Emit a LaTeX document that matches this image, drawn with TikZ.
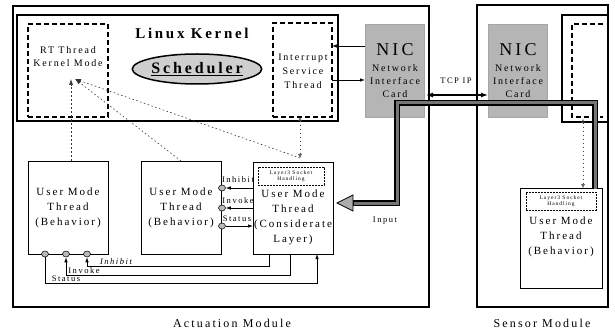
\documentclass[tikz,border=0pt]{standalone}
\usepackage{fontspec}
\setmainfont{Liberation Serif}[LetterSpace=18]
\usetikzlibrary{arrows.meta,shapes.geometric}
\begin{document}
\begin{tikzpicture}[x=1pt,y=-1pt,
  thickbox/.style={draw, line width=1.6pt, inner sep=0, outer sep=0, anchor=north west},
  thinbox/.style={draw, line width=0.9pt, inner sep=0, outer sep=0, anchor=north west},
  dashbox/.style={draw, line width=1.4pt, dash pattern=on 5pt off 3pt, inner sep=0, outer sep=0, anchor=north west},
  smalldash/.style={draw, line width=0.6pt, dash pattern=on 2pt off 1pt, inner sep=0, outer sep=0, anchor=north west},
  nicbox/.style={fill=gray!58, draw=gray!70, inner sep=0, outer sep=0, anchor=north west},
  txt/.style={inner sep=0, align=center},
  port/.style={ellipse, draw, fill=gray!55, minimum width=7pt, minimum height=6pt, inner sep=0, line width=0.5pt},
  dotarrow/.style={draw=gray!40!black, line width=0.6pt, dash pattern=on 1.5pt off 2.5pt, -{Latex[length=6pt,width=4pt]}},
  diadot/.style={draw=gray!50!black, line width=0.6pt, dash pattern=on 1pt off 3pt, {Latex[open,length=4pt,width=4pt]}-{Latex[open,length=4pt,width=4pt]}},
  conn/.style={line width=0.7pt, -{Latex[length=5pt,width=3.5pt]}},
  lbl/.style={inner sep=0, font=\fontsize{8.5}{10}\selectfont}
]
\useasboundingbox (0,0) rectangle (615,331);

% modules
\node[thickbox, minimum width=416pt, minimum height=301pt] (act) at (13,6) {};
\node[thickbox, minimum width=131pt, minimum height=302pt] (sens) at (477,5) {};
% kernels
\node[thickbox, minimum width=321pt, minimum height=106pt] (kern) at (17,15) {};
\node[thickbox, minimum width=46pt, minimum height=107pt] (kernR) at (562,15) {};
\draw[line width=1.4pt, dash pattern=on 5pt off 3pt] (603,24) -| (572,117) -- (603,117);
\coordinate (dRb) at (583,119);

% kernel contents
\node[dashbox, minimum width=80pt, minimum height=93pt] (rt) at (28,24) {};
\node[txt, font=\fontsize{10}{13}\selectfont] (rttxt) at (68,56.5) {RT Thread\\Kernel Mode};
\coordinate (rtTip) at (75,79);
\node[txt, font=\bfseries\fontsize{15}{17}\selectfont] (lk) at (192,33) {Linux Kernel};
\node[ellipse, draw, line width=1.5pt, fill=gray!38, minimum width=123pt, minimum height=30pt, inner sep=0, font=\bfseries\fontsize{16}{18}\selectfont] (sched) at (197,69) {\underline{Scheduler}};
\node[dashbox, minimum width=59pt, minimum height=94pt] (isr) at (273,23) {};
\node[txt, font=\fontsize{10}{14}\selectfont] (isrtxt) at (303,71) {Interrupt\\Service\\Thread};

% NICs
\node[nicbox, minimum width=59pt, minimum height=93pt] (nicL) at (365,24) {};
\node[nicbox, minimum width=59pt, minimum height=93pt] (nicR) at (488,24) {};
\node[txt, font=\fontsize{18}{20}\selectfont] (nicLt) at (395,50) {NIC};
\node[txt, font=\fontsize{10}{13}\selectfont] (nicLs) at (395,81) {Network\\Interface\\Card};
\node[txt, font=\fontsize{18}{20}\selectfont] (nicRt) at (518,50) {NIC};
\node[txt, font=\fontsize{10}{13}\selectfont] (nicRs) at (518,81) {Network\\Interface\\Card};

% NIC <-> ISR
\draw[conn] (nicL.west |- 0,46) -- (isr.east |- 0,46);
\draw[conn] (isr.east |- 0,80) -- (nicL.west |- 0,80);

% user threads
\node[thinbox, minimum width=80pt, minimum height=93pt] (b1) at (28,161) {};
\node[txt, font=\fontsize{11}{15}\selectfont] (b1t) at (68,208) {User Mode\\Thread\\(Behavior)};
\node[thinbox, minimum width=80pt, minimum height=93pt] (b2) at (141,161) {};
\node[txt, font=\fontsize{11}{15}\selectfont] (b2t) at (181,208) {User Mode\\Thread\\(Behavior)};
\node[thinbox, minimum width=80pt, minimum height=92pt] (b3) at (253,162) {};
\node[smalldash, minimum width=66pt, minimum height=18pt] (l3) at (258,167) {};
\node[txt, font=\fontsize{5.5}{6.5}\selectfont] (l3t) at (291,176) {Layer3 Socket\\Handling};
\node[txt, font=\fontsize{11}{15}\selectfont] (b3t) at (293,217) {User Mode\\Thread\\(Considerate\\Layer)};

% sensor thread
\node[thinbox, minimum width=82pt, minimum height=100pt] (sb) at (520,188) {};
\node[smalldash, minimum width=70pt, minimum height=18pt] (sl3) at (526,192) {};
\node[txt, font=\fontsize{5.5}{6.5}\selectfont] (sl3t) at (561,201) {Layer3 Socket\\Handling};
\node[txt, font=\fontsize{11}{15}\selectfont] (sbt) at (561,237) {User Mode\\Thread\\(Behavior)};

% ports on box 2
\node[port] (c1) at (222,188) {};
\node[port] (c2) at (222,208) {};
\node[port] (c3) at (222,226) {};
\draw[conn] (b3.west |- c1) -- (c1);
\draw[conn] (b3.west |- c2) -- (c2);
\draw[conn] (c3) -- (b3.west |- c3);
\node[lbl] (li1) at (238,180) {Inhibit};
\node[lbl] (li2) at (238,201) {Invoke};
\node[lbl] (li3) at (237,219) {Status};

% ports on box 1
\node[port] (d1) at (45,254) {};
\node[port] (d2) at (66,254) {};
\node[port] (d3) at (87,254) {};
\draw[conn] ([xshift=16pt]b3.south west) -- ++(0,12) -| (d3);
\draw[conn] ([xshift=37pt]b3.south west) -- ++(0,21) -| (d2);
\draw[conn] (d1) -- (d1 |- 0,283) -| ([xshift=64pt]b3.south west);
\node[lbl, font=\itshape\fontsize{8.5}{10}\selectfont] (lo1) at (116,262) {Inhibit};
\node[lbl] (lo2) at (84,271) {Invoke};
\node[lbl] (lo3) at (66,279) {Status};

% dotted scheduling arrows
\draw[dotarrow] ([xshift=3pt]b1.north) -- ([xshift=3pt]b1.north |- rtTip);
\draw[dotarrow] (b2.north) -- (rtTip);
\coordinate (b3top) at ([xshift=7pt,yshift=4pt]b3.north);
\draw[dotarrow] (b3top) -- (rtTip);
\draw[diadot] (isr.south -| b3top) -- (b3top);
\draw[diadot] (dRb) -- (sb.north -| dRb);

% input path
\coordinate (inS) at ([xshift=-7pt]sb.north east);
\coordinate (inTip) at ([xshift=4pt,yshift=5pt]b3.east);
\coordinate (inBase) at ([xshift=16pt]inTip);
\draw[line width=6pt, black] (inS) |- (397,103) |- (inBase);
\draw[line width=3pt, gray!45!black!70] ([yshift=-1pt]inS) |- (397,103) |- ([xshift=1pt]inBase);
\filldraw[fill=gray!65, draw=black, line width=0.8pt] (inTip) -- ([yshift=8pt]inBase) -- ([yshift=-8pt]inBase) -- cycle;
\node[lbl] (inl) at (385,221) {Input};

% TCP IP
\draw[line width=1.3pt, {Latex[length=7pt,width=5pt]}-{Latex[length=7pt,width=5pt]}] ([xshift=2pt]nicL.east |- 0,95) -- (nicR.west |- 0,95);
\node[lbl] (tcp) at (456,81) {TCP IP};

% module labels
\node[txt, font=\fontsize{12}{14}\selectfont] (am) at (232,323) {Actuation Module};
\node[txt, font=\fontsize{12}{14}\selectfont] (sm) at (542,323) {Sensor Module};
\end{tikzpicture}
\end{document}
